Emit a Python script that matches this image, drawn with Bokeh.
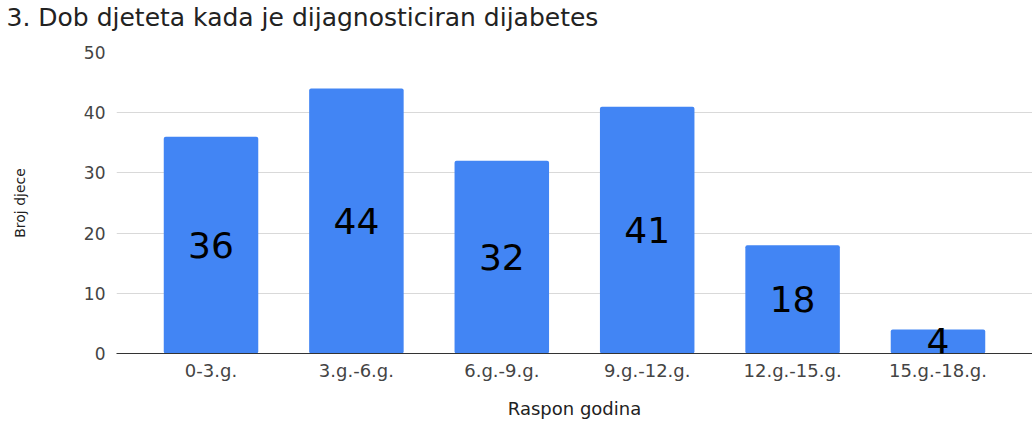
from bokeh.plotting import figure
from bokeh.models import ColumnDataSource, FactorRange, Title, LabelSet
from bokeh.core.properties import value
from bokeh.embed import file_html
from bokeh.resources import INLINE

categories = ["0-3.g.", "3.g.-6.g.", "6.g.-9.g.", "9.g.-12.g.", "12.g.-15.g.", "15.g.-18.g."]
counts = [36, 44, 32, 41, 18, 4]
title_text = "3. Dob djeteta kada je dijagnosticiran dijabetes"
x_label = "Raspon godina"
y_label = "Broj djece"

FONT = "DejaVu Sans"

src = ColumnDataSource(dict(cat=categories, val=counts,
                            mid=[v / 2 for v in counts],
                            lab=[str(v) for v in counts]))

p = figure(width=1032, height=421, output_backend="svg", toolbar_location=None,
           x_range=FactorRange(*categories, range_padding=0.05),
           y_range=(0, 50), title=None,
           min_border_left=116, min_border_right=0, min_border_top=52, min_border_bottom=67)
p.outline_line_color = None
p.background_fill_color = "white"
p.border_fill_color = "white"

# small spacer between frame and title, so the title sits near the top edge
spacer = Title(text=" ", text_font=FONT, text_font_size="1px", standoff=14)
p.add_layout(spacer, "above")
t = Title(text=title_text, align="left", offset=-110, text_font=FONT,
          text_font_size="25px", text_font_style="normal", text_color="#222222",
          standoff=4, vertical_align="top")
p.add_layout(t, "above")

p.vbar(x="cat", top="val", width=0.65, source=src, fill_color="#4285F4",
       line_color=None, border_radius=2)

labels = LabelSet(x="cat", y="mid", text="lab", source=src, text_align="center",
                  text_baseline="middle", text_font=value(FONT), text_font_size="36px",
                  text_color="#000000")
p.add_layout(labels)

p.xgrid.grid_line_color = None
p.ygrid.grid_line_color = "#d9d9d9"
p.ygrid.grid_line_width = 1

p.yaxis.ticker = [0, 10, 20, 30, 40, 50]
p.yaxis.axis_line_color = None
p.yaxis.major_tick_line_color = None
p.yaxis.minor_tick_line_color = None
p.yaxis.major_tick_out = 0
p.yaxis.major_tick_in = 0
p.yaxis.minor_tick_out = 0
p.yaxis.major_label_text_font = FONT
p.yaxis.major_label_text_font_size = "17px"
p.yaxis.major_label_text_color = "#444444"
p.yaxis.major_label_standoff = 11
p.yaxis.axis_label = y_label
p.yaxis.axis_label_text_font = FONT
p.yaxis.axis_label_text_font_size = "14px"
p.yaxis.axis_label_text_font_style = "normal"
p.yaxis.axis_label_text_color = "#222222"
p.yaxis.axis_label_standoff = 53

p.xaxis.axis_line_color = "#333333"
p.xaxis.axis_line_width = 1
p.xaxis.major_tick_line_color = None
p.xaxis.minor_tick_line_color = None
p.xaxis.major_tick_out = 0
p.xaxis.major_tick_in = 0
p.xaxis.minor_tick_out = 0
p.xaxis.major_label_text_font = FONT
p.xaxis.major_label_text_font_size = "18px"
p.xaxis.major_label_text_color = "#444444"
p.xaxis.major_label_standoff = 6
p.xaxis.axis_label = x_label
p.xaxis.axis_label_text_font = FONT
p.xaxis.axis_label_text_font_size = "18px"
p.xaxis.axis_label_text_font_style = "normal"
p.xaxis.axis_label_text_color = "#222222"
p.xaxis.axis_label_standoff = 14

open("out.html", "w").write(file_html(p, INLINE))
